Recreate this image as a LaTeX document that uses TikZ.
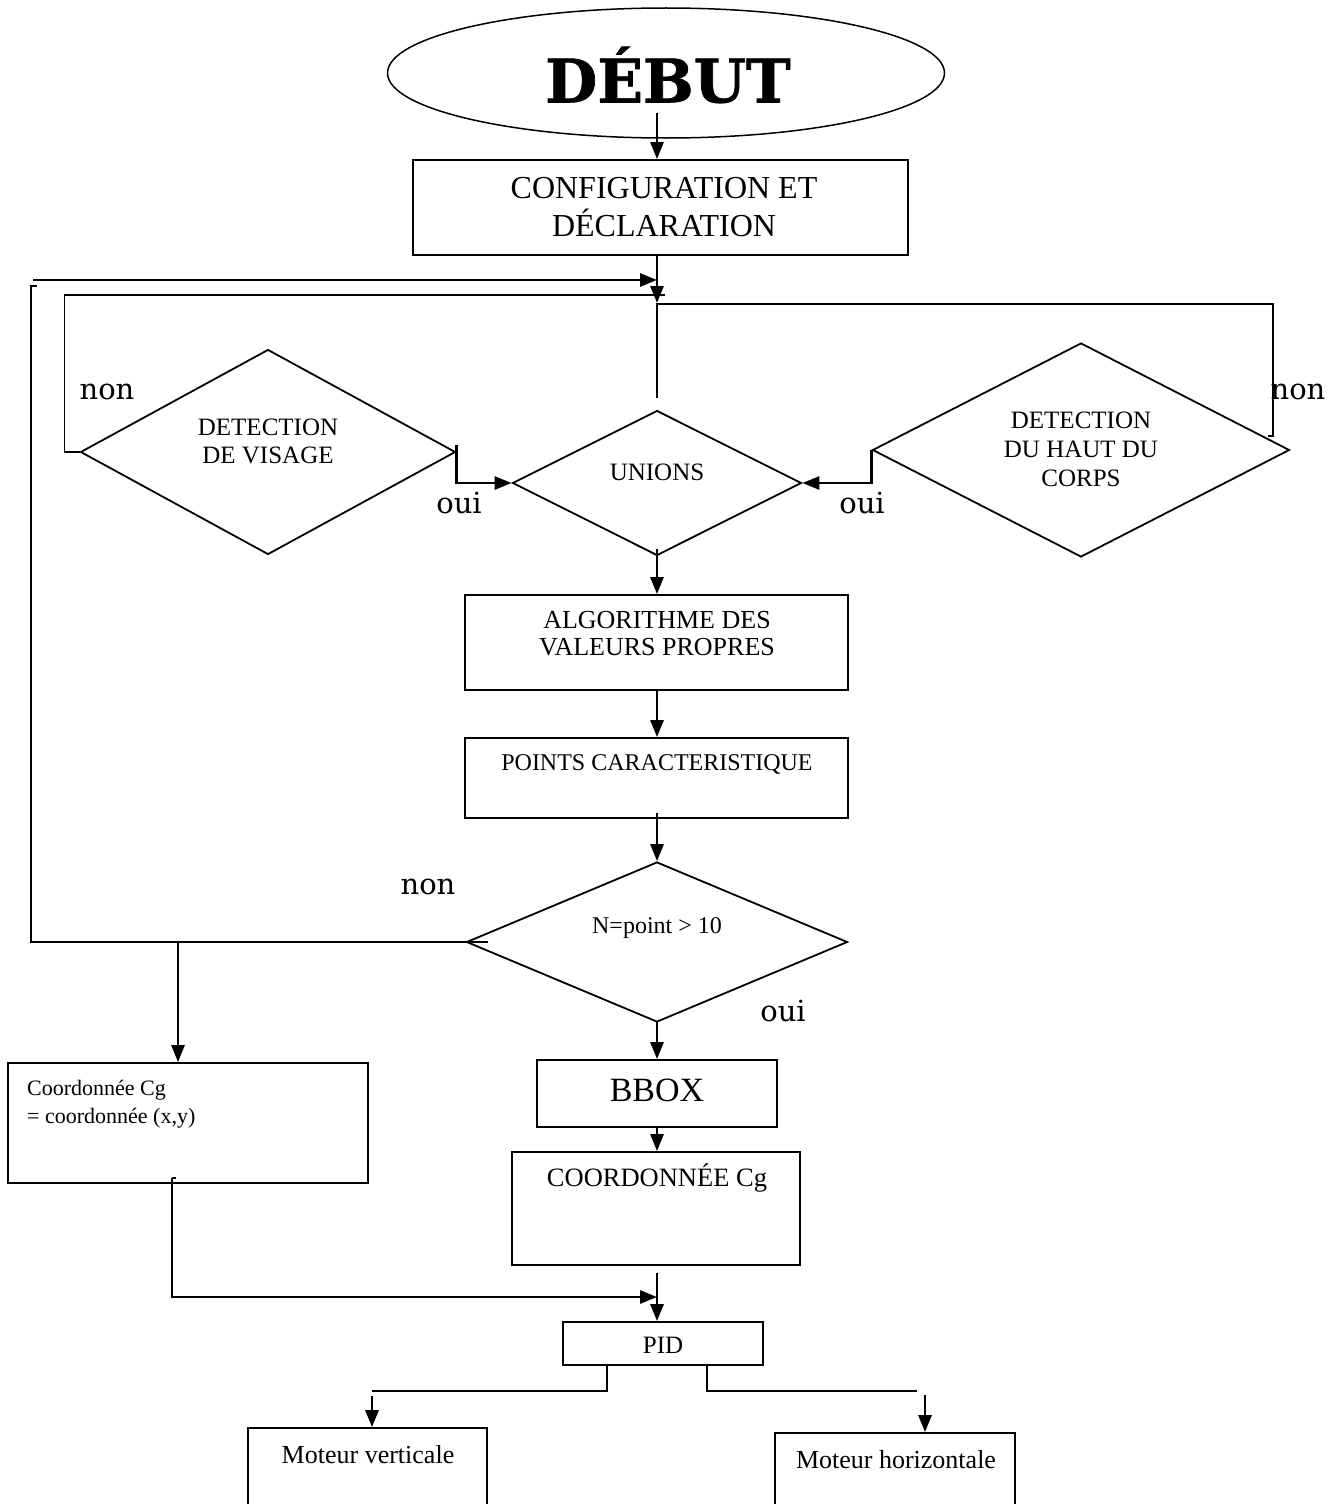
\documentclass[tikz,border=0pt]{standalone}
\usepackage{fontspec}
\setmainfont{Liberation Serif}
\newfontfamily\labelfont{DejaVu Serif}
\newfontfamily\titlefont[FakeBold=1.2]{DejaVu Serif Bold}
\usetikzlibrary{shapes.geometric,arrows.meta}
\begin{document}
\begin{tikzpicture}[x=1pt,y=-1pt,
  box/.style={draw,line width=1.8pt,rectangle,inner sep=0pt},
  decision/.style={draw,line width=1.8pt,diamond,inner sep=0pt},
  txt/.style={align=center,inner sep=0pt,font=\fontsize{25}{28}\selectfont},
  flow/.style={line width=2.8pt,-{Triangle[length=17pt,width=13pt]}},
  thickline/.style={line width=2.8pt},
  thinline/.style={line width=1.2pt},
  yesno/.style={inner sep=0pt,font=\labelfont\fontsize{29}{34}\selectfont},
]
\useasboundingbox (0,0) rectangle (1329,1504);
\clip (0,0) rectangle (1329,1504);

% ---------- shapes ----------
\node[draw,ellipse,line width=1.5pt,minimum width=557pt,minimum height=130pt,inner sep=0pt] (debut) at (666,73) {};
\node[inner sep=0pt,font=\titlefont\fontsize{60}{60}\selectfont] (debuttxt) at (668,75) {DÉBUT};

\node[box,minimum width=495pt,minimum height=95pt] (config) at (660.5,207.5) {};
\node[txt,font=\fontsize{32}{38}\selectfont] (configtxt) at (664,207) {CONFIGURATION ET\\DÉCLARATION};

\node[decision,minimum width=375pt,minimum height=205pt] (vis) at (268,452) {};
\node[txt] (vistxt) at (268,441) {DETECTION\\DE VISAGE};

\node[decision,minimum width=289pt,minimum height=145pt] (unions) at (657,483) {};
\node[txt] (unionstxt) at (657,472) {UNIONS};

\node[decision,minimum width=417pt,minimum height=214pt] (corps) at (1081,450) {};
\node[txt,font=\fontsize{25}{29}\selectfont] (corpstxt) at (1081,449) {DETECTION\\DU HAUT DU\\CORPS};

\node[box,minimum width=383pt,minimum height=95pt] (algo) at (656.5,642.5) {};
\node[txt,font=\fontsize{26}{27}\selectfont] (algotxt) at (657,634) {ALGORITHME DES\\VALEURS PROPRES};

\node[box,minimum width=383pt,minimum height=80pt] (pts) at (656.5,778) {};
\node[txt,font=\fontsize{24}{28}\selectfont] (ptstxt) at (657,764) {POINTS CARACTERISTIQUE};

\node[decision,minimum width=381pt,minimum height=160pt] (npt) at (657,942) {};
\node[txt,font=\fontsize{24}{28}\selectfont] (npttxt) at (657,928) {N=point > 10};

\node[box,minimum width=240pt,minimum height=67pt] (bbox) at (657,1093.5) {};
\node[txt,font=\fontsize{34}{38}\selectfont] (bboxtxt) at (657,1090) {BBOX};

\node[box,minimum width=288pt,minimum height=113pt] (cg) at (656,1208.5) {};
\node[txt,font=\fontsize{26.5}{30}\selectfont] (cgtxt) at (657,1178) {COORDONNÉE Cg};

\node[box,minimum width=360pt,minimum height=120pt] (coordl) at (188,1123) {};
\node[txt,align=left,anchor=west,font=\fontsize{22}{28}\selectfont] (coordltxt) at (27,1104) {Coordonnée Cg\\= coordonnée (x,y)};

\node[box,minimum width=200pt,minimum height=43pt] (pid) at (663,1343.5) {};
\node[txt] (pidtxt) at (663,1345) {PID};

\node[box,minimum width=239pt,minimum height=92pt] (mv) at (367.5,1474) {};
\node[txt,font=\fontsize{26}{30}\selectfont] (mvtxt) at (368,1455) {Moteur verticale};

\node[box,minimum width=240pt,minimum height=87pt] (mh) at (895,1476.5) {};
\node[txt,font=\fontsize{26}{30}\selectfont] (mhtxt) at (896,1460) {Moteur horizontale};

% ---------- labels ----------
\node[yesno] (non1) at (107,392) {non};
\node[yesno] (non2) at (1298,392) {non};
\node[yesno] (non3) at (428,887) {non};
\node[yesno] (oui1) at (459,503) {oui};
\node[yesno] (oui2) at (862,503) {oui};
\node[yesno] (oui3) at (783,1011) {oui};

% ---------- connectors ----------
\coordinate (mx) at (657,0);
\coordinate (s0) at (657,113);
\coordinate (j1) at (657,303);
\coordinate (j2) at (657,398);
\coordinate (lb) at (33,280);
\coordinate (ct) at (1268,436);
\coordinate (nl) at (488,942);
\coordinate (nb) at (178,942);
\coordinate (c1) at (657,1273);
\coordinate (m2) at (657,1297);
\coordinate (lt) at (172,1178);
\coordinate (a1) at (372,1396);
\coordinate (a2) at (925,1395);

\draw[flow] (s0) -- (s0 |- config.north);
\draw[flow] (mx |- config.south) -- (j1);
\draw[flow] (lb) -- (lb -| mx);
\draw[thinline] (j1) -- (j2);

% loops back to the start of detection
\draw[thinline] (vis.west) -- ++(-15,0) |- (665,295);
\draw[thinline] (ct) -- (1273,436) |- (657,304);
\draw[thickline] (nl) -- (nb);
\draw[thinline] (nb) -- (31,942) -- (31,286) -- (37,286);

% detections into the union
\draw[flow] ([yshift=7pt]vis.east) |- (unions.west);
\draw[flow] (corps.west) |- (unions.east);

% main column
\draw[flow] ([yshift=7pt]unions.south) -- (mx |- algo.north);
\draw[flow] (mx |- algo.south) -- (mx |- pts.north);
\draw[flow] ([yshift=6pt]pts.south -| mx) -- (npt.north);
\draw[flow] ([yshift=2pt]npt.south) -- (bbox.north);
\draw[flow] (nb) -- (nb |- coordl.north);
\draw[flow] (mx |- bbox.south) -- (mx |- cg.north);
\draw[flow] (c1) -- (c1 |- pid.north);
\draw[thickline] (lt) -- ++(4,0);
\draw[flow] (lt) |- (m2);

% PID to both motors
\draw[thinline] ([xshift=-56pt]pid.south) |- (372,1391);
\draw[thinline] ([xshift=44pt]pid.south) |- (917,1391);
\draw[flow] (a1) -- (a1 |- mv.north);
\draw[flow] (a2) -- (a2 |- mh.north);
\end{tikzpicture}
\end{document}
